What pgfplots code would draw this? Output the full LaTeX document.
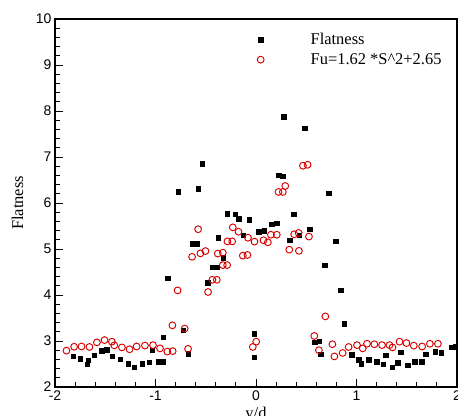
\documentclass[border=0pt]{standalone}
\usepackage{fontspec}
\setmainfont{Liberation Serif}
\newfontfamily\arialfont{Liberation Sans}
\usepackage{pgfplots}
\pgfplotsset{compat=1.18}
\definecolor{myred}{RGB}{215,0,0}
\begin{document}
\begin{tikzpicture}
\begin{axis}[
  scale only axis, width=402bp, height=368bp,
  xmin=-2, xmax=2, ymin=2, ymax=10,
  xtick={-2,-1,0,1,2}, ytick={2,3,...,10},
  minor x tick num=4, minor y tick num=4,
  tick pos=left, tick align=inside,
  major tick length=8bp, minor tick length=5bp,
  every tick/.style={black, line width=0.9bp},
  axis line style={line width=1.1bp},
  tick label style={font=\arialfont\fontsize{14}{14}\selectfont},
  /pgf/number format/assume math mode=true,
  xlabel={y/d}, ylabel={Flatness},
  label style={font=\fontsize{16.5}{18}\selectfont},
  ylabel style={at={(axis description cs:-0.0933,0.5)}, anchor=center},
  legend cell align=left,
  legend image code/.code={\draw[#1] plot coordinates {(0bp,0bp)}; \path[draw=none,fill=none] (-5bp,0bp) -- (48bp,0bp);},
  legend style={draw=none, fill=none, at={(axis cs:-0.035,9.78)}, anchor=north west,
    font=\fontsize{16.5}{18}\selectfont, row sep=3.3bp},
]
\addplot[only marks, mark=square*, mark size=2.2bp, black] coordinates {
(-1.82,2.665) (-1.75,2.615) (-1.677,2.49) (-1.667,2.58) (-1.61,2.69) (-1.537,2.79)
(-1.487,2.81) (-1.428,2.665) (-1.35,2.60) (-1.274,2.51) (-1.211,2.43) (-1.135,2.51)
(-1.062,2.535) (-1.035,2.80) (-0.975,2.55) (-0.929,2.55) (-0.925,3.08) (-0.879,4.37)
(-0.773,6.245) (-0.726,3.23) (-0.676,2.72) (-0.63,5.115) (-0.586,5.115) (-0.573,6.31)
(-0.533,6.855) (-0.48,4.27) (-0.434,4.60) (-0.39,4.60) (-0.377,5.245) (-0.324,4.81)
(-0.287,5.77) (-0.204,5.75) (-0.174,5.66) (-0.128,5.295) (-0.065,5.64) (-0.018,3.16)
(-0.018,2.645) (0.025,5.38) (0.082,5.40) (0.155,5.535) (0.204,5.555) (0.224,6.60)
(0.264,6.58) (0.274,7.88) (0.334,5.19) (0.374,5.75) (0.43,5.30) (0.484,7.62)
(0.533,5.43) (0.586,2.97) (0.63,2.99) (0.643,2.71) (0.683,4.645) (0.723,6.21)
(0.793,5.165) (0.842,4.10) (0.879,3.38) (0.952,2.70) (1.022,2.59) (1.045,2.51)
(1.122,2.59) (1.20,2.55) (1.264,2.49) (1.291,2.69) (1.358,2.43) (1.41,2.53)
(1.438,2.75) (1.51,2.47) (1.58,2.55) (1.647,2.55) (1.69,2.71) (1.783,2.77)
(1.843,2.745) (1.946,2.86) (1.986,2.88)
};
\addlegendentry{Flatness}
\addplot[only marks, mark=o, mark size=3.4bp, myred, mark options={line width=0.95bp}] coordinates {
(-1.886,2.79) (-1.81,2.875) (-1.736,2.88) (-1.657,2.87) (-1.583,2.97) (-1.507,3.02)
(-1.434,2.985) (-1.41,2.905) (-1.334,2.86) (-1.258,2.82) (-1.188,2.88) (-1.105,2.90)
(-1.025,2.91) (-0.955,2.84) (-0.882,2.77) (-0.829,2.78) (-0.832,3.34) (-0.78,4.10)
(-0.71,3.27) (-0.676,2.83) (-0.636,4.83) (-0.576,5.43) (-0.553,4.905) (-0.503,4.955)
(-0.477,4.065) (-0.434,4.33) (-0.39,4.33) (-0.38,4.90) (-0.33,4.92) (-0.33,4.65)
(-0.287,4.65) (-0.284,5.165) (-0.237,5.165) (-0.231,5.47) (-0.174,5.375) (-0.131,4.855)
(-0.085,4.87) (-0.08,5.245) (-0.015,5.16) (-0.032,2.87) (0.002,2.985) (0.075,5.19)
(0.118,5.145) (0.148,5.31) (0.207,5.31) (0.224,6.24) (0.267,6.24) (0.291,6.37)
(0.331,4.985) (0.38,5.32) (0.424,5.35) (0.427,4.96) (0.467,6.81) (0.513,6.83)
(0.527,5.27) (0.58,3.11) (0.626,2.80) (0.69,3.535) (0.76,2.93) (0.78,2.665)
(0.862,2.74) (0.922,2.87) (1.005,2.91) (1.062,2.84) (1.105,2.94) (1.178,2.93)
(1.254,2.91) (1.328,2.91) (1.358,2.86) (1.428,2.985) (1.497,2.955) (1.57,2.90)
(1.653,2.88) (1.73,2.94) (1.81,2.94)
};
\addlegendentry{Fu=1.62 *S\^{}2+2.65}
\draw[line width=2.2bp, line cap=rect] (rel axis cs:0,1) -- (rel axis cs:0,0) -- (rel axis cs:1,0);
\end{axis}
\pgfresetboundingbox
\path[use as bounding box] ([xshift=-55bp,yshift=-29bp]current axis.south west) rectangle ([xshift=1bp,yshift=19bp]current axis.north east);
\end{tikzpicture}
\end{document}
